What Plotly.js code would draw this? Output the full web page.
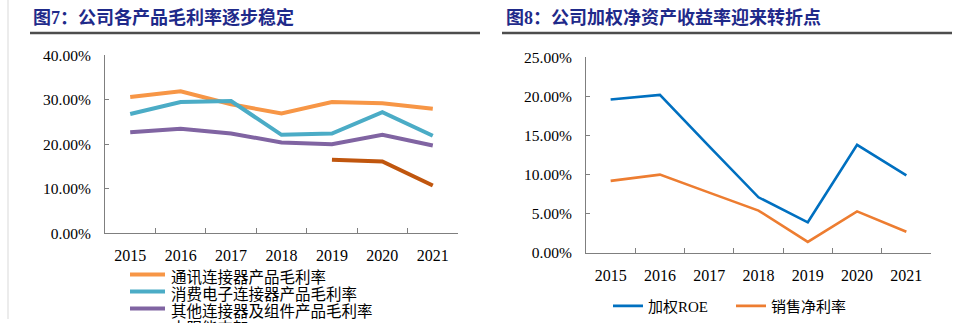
<!DOCTYPE html>
<html>
<head>
<meta charset="utf-8">
<script src="https://cdn.plot.ly/plotly-3.0.1.min.js"></script>
<style>
html,body{margin:0;padding:0;background:#fff;overflow:hidden;}
#chart{width:965px;height:323px;}
</style>
</head>
<body>
<div id="chart"></div>
<script>
// ---- Data ----
const years = ['2015', '2016', '2017', '2018', '2019', '2020', '2021'];

// Figure 7: gross margin by product (%)
const leftTitle = '图7：公司各产品毛利率逐步稳定';
const leftNames = ['通讯连接器产品毛利率', '消费电子连接器产品毛利率', '其他连接器及组件产品毛利率', '太阳能支架'];
const commGM  = [30.6, 31.9, 29.0, 26.9, 29.5, 29.2, 28.0];
const consGM  = [26.8, 29.5, 29.7, 22.1, 22.4, 27.2, 21.9];
const otherGM = [22.7, 23.5, 22.4, 20.4, 20.0, 22.1, 19.7];
const solarGM = [null, null, null, null, 16.5, 16.1, 10.7];
const leftTicks = [0, 10, 20, 30, 40];

// Figure 8: weighted ROE and net profit margin (%)
const rightTitle = '图8：公司加权净资产收益率迎来转折点';
const rightNames = ['加权ROE', '销售净利率'];
const roe = [19.6, 20.2, 13.6, 7.1, 3.9, 13.8, 9.9];
const npm = [9.2, 10.0, 7.7, 5.4, 1.4, 5.3, 2.7];
const rightTicks = [0, 5, 10, 15, 20, 25];

// ---- Layout helpers ----
const W = 965, H = 323;
const px = x => x / W;
const py = y => 1 - y / H;

const serif = 'Liberation Serif, Noto Sans CJK SC, serif';
const legendFont = 'Liberation Serif, Noto Sans CJK SC, sans-serif';
const leftColors = ['#F79646', '#4BACC6', '#8064A2', '#C0560E'];
const rightColors = ['#0070C0', '#ED7D31'];

const leftSeries = [commGM, consGM, otherGM, solarGM];
const rightSeries = [roe, npm];

const traces = [];
leftSeries.forEach((s, i) => {
  traces.push({
    x: years, y: s, type: 'scatter', mode: 'lines', name: leftNames[i],
    xaxis: 'x', yaxis: 'y', showlegend: false,
    line: {color: leftColors[i], width: 4}, connectgaps: false, hoverinfo: 'skip'
  });
});
rightSeries.forEach((s, i) => {
  traces.push({
    x: years, y: s, type: 'scatter', mode: 'lines', name: rightNames[i],
    xaxis: 'x2', yaxis: 'y2', showlegend: true,
    line: {color: rightColors[i], width: 2.6}, hoverinfo: 'skip'
  });
});

const axisColor = '#7f7f7f';
function xAxis(domain) {
  return {
    domain: domain, type: 'category', range: [-0.5, 6.5],
    showline: true, linecolor: axisColor, linewidth: 1,
    ticks: 'inside', tickson: 'boundaries', ticklen: 5, tickcolor: axisColor,
    showgrid: false, zeroline: false, fixedrange: true,
    tickfont: {family: serif, size: 16, color: '#000'},
    ticklabelstandoff: 8
  };
}
function yAxis(domain, maxv, ticks, anchor) {
  return {
    domain: domain, range: [0, maxv], tickvals: ticks,
    ticktext: ticks.map(v => v.toFixed(2) + '%'),
    showline: true, linecolor: axisColor, linewidth: 1,
    ticks: 'inside', ticklen: 4, tickcolor: axisColor,
    showgrid: false, zeroline: false, fixedrange: true, anchor: anchor,
    tickfont: {family: serif, size: 15.5, color: '#000'},
    ticklabelstandoff: 10
  };
}

const annotations = [
  {text: '<b>' + leftTitle + '</b>', x: px(31), y: py(18), xref: 'paper', yref: 'paper',
   xanchor: 'left', yanchor: 'middle', showarrow: false,
   font: {family: 'Liberation Serif, Noto Sans CJK SC', size: 18, color: '#1F2A8A'}},
  {text: '<b>' + rightTitle + '</b>', x: px(504), y: py(18), xref: 'paper', yref: 'paper',
   xanchor: 'left', yanchor: 'middle', showarrow: false,
   font: {family: 'Liberation Serif, Noto Sans CJK SC', size: 18, color: '#1F2A8A'}}
];
const shapes = [
  {type: 'line', xref: 'paper', yref: 'paper', x0: px(8), x1: px(8), y0: 0, y1: 1,
   line: {color: '#d9d9d9', width: 1}},
  {type: 'line', xref: 'paper', yref: 'paper', x0: px(30), x1: px(480), y0: py(33.5), y1: py(33.5),
   line: {color: '#4d4d4d', width: 2.5}},
  {type: 'line', xref: 'paper', yref: 'paper', x0: px(502), x1: px(952), y0: py(33.5), y1: py(33.5),
   line: {color: '#4d4d4d', width: 2.5}}
];
// left legend (built from series names/colors)
leftNames.forEach((n, i) => {
  const yy = 278 + i * 17.2;
  shapes.push({type: 'line', xref: 'paper', yref: 'paper', x0: px(130), x1: px(165),
    y0: py(yy), y1: py(yy), line: {color: leftColors[i], width: 4}});
  annotations.push({text: n, x: px(169), y: py(yy + 3), xref: 'paper', yref: 'paper',
    xanchor: 'left', yanchor: 'middle', showarrow: false,
    font: {family: legendFont, size: 15.5, color: '#000'}});
});

const layout = {
  width: W, height: H,
  margin: {l: 0, r: 0, t: 0, b: 0},
  paper_bgcolor: '#fff', plot_bgcolor: '#fff',
  xaxis: xAxis([px(105), px(458)]),
  yaxis: yAxis([py(236), py(56)], 40, leftTicks, 'x'),
  xaxis2: Object.assign(xAxis([px(586), px(931)]), {anchor: 'y2'}),
  yaxis2: yAxis([py(256), py(58)], 25, rightTicks, 'x2'),
  showlegend: true,
  legend: {
    orientation: 'h', x: px(608), y: py(310), xanchor: 'left', yanchor: 'middle',
    font: {family: legendFont, size: 15, color: '#000'},
    bgcolor: 'rgba(0,0,0,0)', borderwidth: 0, itemwidth: 30,
    entrywidth: 78
  },
  annotations: annotations,
  shapes: shapes
};

Plotly.newPlot('chart', traces, layout, {staticPlot: true, displayModeBar: false});
</script>
</body>
</html>
